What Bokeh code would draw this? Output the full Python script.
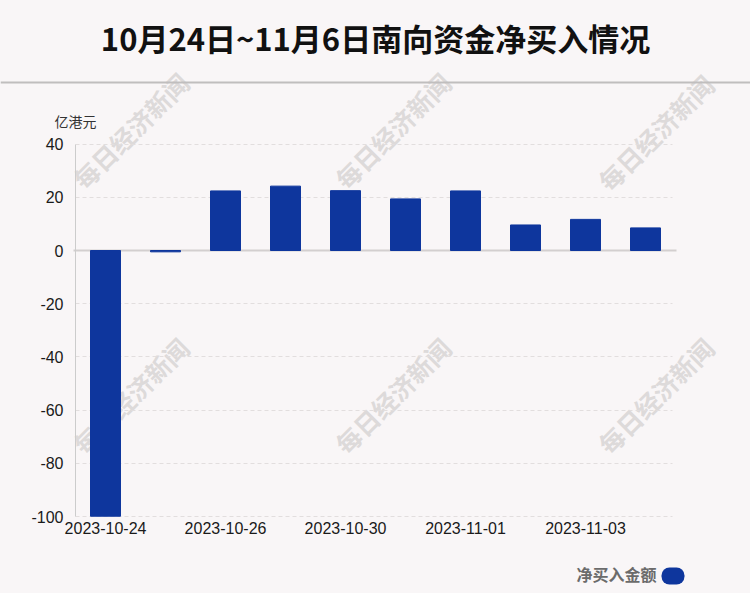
from bokeh.plotting import figure
from bokeh.models import FixedTicker, Range1d, Grid, Quad, Span
from bokeh.embed import file_html
from bokeh.resources import INLINE
from bokeh.core.properties import value

# ---- data ----
dates = ["2023-10-24", "2023-10-25", "2023-10-26", "2023-10-27", "2023-10-30",
         "2023-10-31", "2023-11-01", "2023-11-02", "2023-11-03", "2023-11-06"]
net_buy = [-99.9, -0.5, 22.4, 24.2, 22.5, 19.4, 22.4, 9.6, 11.7, 8.5]
y_ticks = [40, 20, 0, -20, -40, -60, -80, -100]
shown_dates = ["2023-10-24", "2023-10-26", "2023-10-30", "2023-11-01", "2023-11-03"]
title_text = "10月24日~11月6日南向资金净买入情况"
unit_text = "亿港元"
legend_text = "净买入金额"
watermark = "每日经济新闻"

BG = "#f9f6f7"
BLUE = "#0e369d"
CJK = "Noto Sans CJK SC"
WM_COLOR = "#dddada"
WM_SIZE = "25px"
WM_ANGLE = 0.785

W, H = 750, 593

HAS_CB = "cross_bounds" in Grid.properties()
HAS_BR = "border_radius" in Quad.properties()

# layout helpers: page pixel -> data coordinate (bar i centred at x=i)
PX0, PPX = 105.0, 60.0          # page x of bar 0, pixels per category
PY40, PPY = 143.6, 2.66         # page y of value 40, pixels per unit
def mx(px):
    return (px - PX0) / PPX
def my(py):
    return 40 - (py - PY40) / PPY

wm_page = [(130, 130), (392, 130), (655, 132), (130, 395), (392, 395), (655, 395)]

p = figure(width=W, height=H,
           x_range=Range1d(mx(0), mx(W)), y_range=Range1d(my(H), my(0)),
           title=None, toolbar_location=None, output_backend="svg", min_border=0)
p.background_fill_color = BG
p.border_fill_color = BG
p.outline_line_color = None

# watermarks
p.text(x=[mx(q[0]) for q in wm_page], y=[my(q[1]) for q in wm_page], text=[watermark] * len(wm_page),
       angle=WM_ANGLE, text_align="center", text_baseline="middle", text_font=value(CJK),
       text_font_style="bold", text_font_size=WM_SIZE, text_color=WM_COLOR, level="underlay")

# bars
xs = list(range(len(dates)))
p.vbar(x=xs, top=net_buy, width=0.5, color=BLUE)

# y axis
p.yaxis.fixed_location = mx(75)
p.yaxis.ticker = FixedTicker(ticks=y_ticks)
p.yaxis.bounds = (min(y_ticks), max(y_ticks))
p.yaxis.major_label_overrides = {t: str(t) for t in y_ticks}
p.yaxis.axis_line_color = "#cccccc"
p.yaxis.major_tick_line_color = None
p.yaxis.minor_tick_line_color = None
p.yaxis.major_tick_out = 0
p.yaxis.major_label_standoff = 12
p.yaxis.major_label_text_font = "Liberation Sans"
p.yaxis.major_label_text_font_size = "16px"
p.yaxis.major_label_text_color = "#1a1a1a"

# x axis
shown_idx = [i for i, d in enumerate(dates) if d in shown_dates]
p.xaxis.fixed_location = min(y_ticks)
p.xaxis.ticker = FixedTicker(ticks=shown_idx)
p.xaxis.major_label_overrides = {i: dates[i] for i in shown_idx}
p.xaxis.axis_line_color = None
p.xaxis.major_tick_line_color = None
p.xaxis.minor_tick_line_color = None
p.xaxis.major_tick_out = 0
p.xaxis.major_label_standoff = 5
p.xaxis.major_label_text_font = "Liberation Sans"
p.xaxis.major_label_text_font_size = "16px"
p.xaxis.major_label_text_color = "#1a1a1a"

# grids
p.xgrid.grid_line_color = None
p.ygrid.grid_line_color = "#e2dede"
p.ygrid.grid_line_dash = "4 3"
p.ygrid.bounds = (min(y_ticks), max(y_ticks))
if HAS_CB:
    p.ygrid.cross_bounds = (mx(75), mx(672))
    p.add_layout(Grid(dimension=1, ticker=FixedTicker(ticks=[0]), grid_line_color="#d3cfcf",
                      grid_line_width=2, cross_bounds=(mx(73), mx(676))))
else:
    p.add_layout(Span(location=0, dimension="width", line_color="#d3cfcf", line_width=2,
                      level="underlay"))

# title, separator, unit
p.text(x=[mx(375)], y=[my(37)], text=[title_text], text_align="center", text_baseline="middle",
       text_font=value(CJK), text_font_style="bold", text_font_size="31px", text_color="#111111")
p.segment(x0=[mx(0)], y0=[my(82)], x1=[mx(W)], y1=[my(82)], line_color="#c0bebe", line_width=2)
p.text(x=[mx(54)], y=[my(120)], text=[unit_text], text_align="left", text_baseline="middle",
       text_font=value(CJK), text_font_size="14px", text_color="#333333")

# legend
p.text(x=[mx(656)], y=[my(573)], text=[legend_text], text_align="right", text_baseline="middle",
       text_font=value(CJK), text_font_style="bold", text_font_size="16px", text_color="#6b6b6b")
if HAS_BR:
    p.quad(left=[mx(661)], right=[mx(684)], top=[my(567)], bottom=[my(584)], fill_color=BLUE,
           line_color=None, border_radius=8)
else:
    p.quad(left=[mx(669)], right=[mx(676)], top=[my(567)], bottom=[my(584)], fill_color=BLUE,
           line_color=None)

html = file_html(p, INLINE)
html = html.replace("<head>", "<head><style>html,body{margin:0;padding:0;background:%s;}</style>" % BG, 1)
open("out.html", "w").write(html)
